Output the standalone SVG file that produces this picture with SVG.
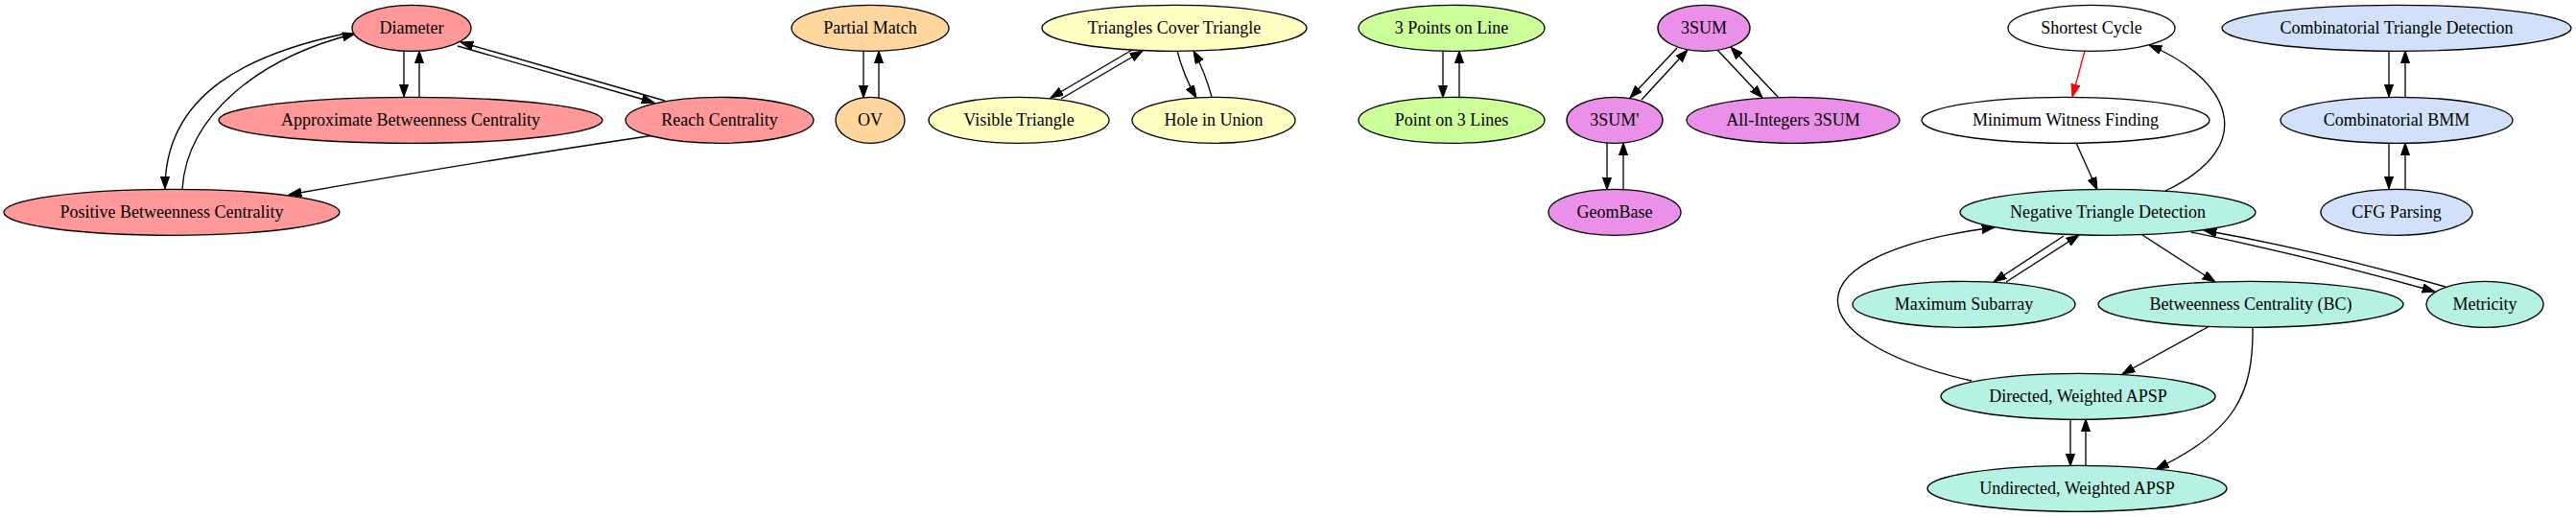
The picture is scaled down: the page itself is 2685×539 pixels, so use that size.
<svg xmlns="http://www.w3.org/2000/svg" width="2685" height="539" viewBox="0 0 2685 539">
<style>
.n ellipse{stroke:#000;stroke-width:1.33}
.n text{font-family:"Liberation Serif","Times New Roman",serif;font-size:18px;text-anchor:middle;fill:#000}
.red ellipse{fill:#ff9999}
.org ellipse{fill:#ffd69e}
.yel ellipse{fill:#ffffc2}
.grn ellipse{fill:#ccff99}
.mag ellipse{fill:#ea90e8}
.wht ellipse{fill:#ffffff}
.tea ellipse{fill:#b5f2e3}
.blu ellipse{fill:#d2e0f9}
#edges path{fill:none;stroke:#000;stroke-width:1.33;marker-end:url(#ah)}
#edges path.r{stroke:#ff0000;marker-end:url(#ahr)}
</style>
<defs>
<marker id="ah" markerUnits="userSpaceOnUse" markerWidth="14" markerHeight="10" refX="13.3" refY="4.7" orient="auto"><path d="M0,0 L13.3,4.7 L0,9.4 z" fill="#000" stroke="#000" stroke-width="1"/></marker>
<marker id="ahr" markerUnits="userSpaceOnUse" markerWidth="14" markerHeight="10" refX="13.3" refY="4.7" orient="auto"><path d="M0,0 L13.3,4.7 L0,9.4 z" fill="#ff0000" stroke="#ff0000" stroke-width="1"/></marker>
</defs>
<rect width="2685" height="539" fill="#fff"/>
<g id="edges">
<path d="M360,35 C260,56 172,97 172,197"/>
<path d="M190,197 C195,120 270,60 370,35"/>
<path d="M421,53 L421,101"/>
<path d="M437,101 L437,53"/>
<path d="M477,48 L682,107"/>
<path d="M693,105 L480,44"/>
<path d="M682,141 Q500,168 301,203"/>
<path d="M900,53 L900,102"/>
<path d="M916,102 L916,53"/>
<path d="M1180,52 L1095,102"/>
<path d="M1106,103 L1191,53"/>
<path d="M1227,53 Q1234,80 1247,102"/>
<path d="M1263,101 Q1256,75 1244,53"/>
<path d="M1504,53 L1504,102"/>
<path d="M1521,101 L1521,53"/>
<path d="M1748,50 L1699,102"/>
<path d="M1711,104 L1759,52"/>
<path d="M1790,52 L1837,102"/>
<path d="M1854,102 L1804,49"/>
<path d="M1675,149 L1675,198"/>
<path d="M1692,198 L1692,149"/>
<path class="r" d="M2173,53 L2160,101"/>
<path d="M2164,149 L2186,198"/>
<path d="M2257,199 C2360,150 2320,80 2240,47"/>
<path d="M2490,53 L2490,101"/>
<path d="M2507,101 L2507,53"/>
<path d="M2490,149 L2490,197"/>
<path d="M2507,197 L2507,149"/>
<path d="M2055,397 C1870,355 1860,265 2079,237"/>
<path d="M2151,246 L2078,294"/>
<path d="M2091,294 L2167,245"/>
<path d="M2233,245 L2309,294"/>
<path d="M2284,242 Q2410,268 2538,304"/>
<path d="M2549,299 Q2420,262 2297,240"/>
<path d="M2303,340 L2212,390"/>
<path d="M2348,341 C2349,410 2330,450 2247,489"/>
<path d="M2158,437 L2158,486"/>
<path d="M2174,486 L2174,437"/>
</g>
<g id="diameter" class="n red"><ellipse cx="429" cy="29.3" rx="62" ry="24"/><text x="429" y="35.3">Diameter</text></g>
<g id="approx_bc" class="n red"><ellipse cx="428" cy="125.3" rx="200" ry="24"/><text x="428" y="131.3">Approximate Betweenness Centrality</text></g>
<g id="reach" class="n red"><ellipse cx="750" cy="125.3" rx="98" ry="24"/><text x="750" y="131.3">Reach Centrality</text></g>
<g id="positive_bc" class="n red"><ellipse cx="179" cy="221.3" rx="175" ry="24"/><text x="179" y="227.3">Positive Betweenness Centrality</text></g>
<g id="partial_match" class="n org"><ellipse cx="907" cy="29.3" rx="82" ry="24"/><text x="907" y="35.3">Partial Match</text></g>
<g id="ov" class="n org"><ellipse cx="907" cy="125.3" rx="36" ry="24"/><text x="907" y="131.3">OV</text></g>
<g id="tct" class="n yel"><ellipse cx="1224" cy="29.3" rx="138" ry="24"/><text x="1224" y="35.3">Triangles Cover Triangle</text></g>
<g id="visible_triangle" class="n yel"><ellipse cx="1062" cy="125.3" rx="94" ry="24"/><text x="1062" y="131.3">Visible Triangle</text></g>
<g id="hole_in_union" class="n yel"><ellipse cx="1265" cy="125.3" rx="85" ry="24"/><text x="1265" y="131.3">Hole in Union</text></g>
<g id="three_points" class="n grn"><ellipse cx="1513" cy="29.3" rx="97" ry="24"/><text x="1513" y="35.3">3 Points on Line</text></g>
<g id="point_on_3_lines" class="n grn"><ellipse cx="1513" cy="125.3" rx="97" ry="24"/><text x="1513" y="131.3">Point on 3 Lines</text></g>
<g id="threesum" class="n mag"><ellipse cx="1776" cy="29.3" rx="48" ry="24"/><text x="1776" y="35.3">3SUM</text></g>
<g id="threesum_prime" class="n mag"><ellipse cx="1683" cy="125.3" rx="50" ry="24"/><text x="1683" y="131.3">3SUM'</text></g>
<g id="all_integers" class="n mag"><ellipse cx="1869" cy="125.3" rx="111" ry="24"/><text x="1869" y="131.3">All-Integers 3SUM</text></g>
<g id="geombase" class="n mag"><ellipse cx="1683" cy="221.3" rx="69" ry="24"/><text x="1683" y="227.3">GeomBase</text></g>
<g id="shortest_cycle" class="n wht"><ellipse cx="2180" cy="29.3" rx="87" ry="24"/><text x="2180" y="35.3">Shortest Cycle</text></g>
<g id="min_witness" class="n wht"><ellipse cx="2153" cy="125.3" rx="150" ry="24"/><text x="2153" y="131.3">Minimum Witness Finding</text></g>
<g id="neg_triangle" class="n tea"><ellipse cx="2197" cy="221.3" rx="154" ry="24"/><text x="2197" y="227.3">Negative Triangle Detection</text></g>
<g id="max_subarray" class="n tea"><ellipse cx="2047" cy="317.3" rx="116" ry="24"/><text x="2047" y="323.3">Maximum Subarray</text></g>
<g id="bc" class="n tea"><ellipse cx="2346" cy="317.3" rx="159" ry="24"/><text x="2346" y="323.3">Betweenness Centrality (BC)</text></g>
<g id="metricity" class="n tea"><ellipse cx="2590" cy="317.3" rx="61" ry="24"/><text x="2590" y="323.3">Metricity</text></g>
<g id="directed_apsp" class="n tea"><ellipse cx="2166" cy="413.3" rx="143" ry="24"/><text x="2166" y="419.3">Directed, Weighted APSP</text></g>
<g id="undirected_apsp" class="n tea"><ellipse cx="2165" cy="509.3" rx="156" ry="24"/><text x="2165" y="515.3">Undirected, Weighted APSP</text></g>
<g id="comb_triangle" class="n blu"><ellipse cx="2498" cy="29.3" rx="182" ry="24"/><text x="2498" y="35.3">Combinatorial Triangle Detection</text></g>
<g id="comb_bmm" class="n blu"><ellipse cx="2498" cy="125.3" rx="121" ry="24"/><text x="2498" y="131.3">Combinatorial BMM</text></g>
<g id="cfg" class="n blu"><ellipse cx="2498" cy="221.3" rx="79" ry="24"/><text x="2498" y="227.3">CFG Parsing</text></g>
</svg>
